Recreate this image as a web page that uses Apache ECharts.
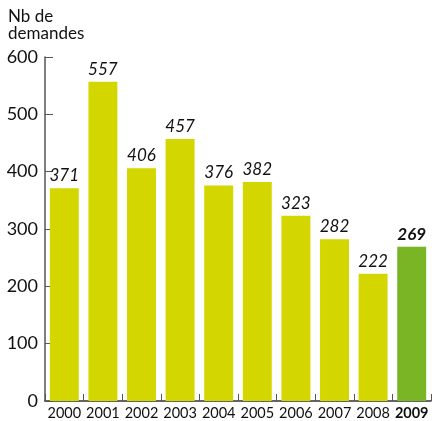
<!DOCTYPE html>
<html>
<head>
<meta charset="utf-8">
<script src="https://cdn.jsdelivr.net/npm/echarts@6/dist/echarts.min.js"></script>
<style>
  html, body { margin: 0; padding: 0; background: #fff; }
  #chart { width: 432px; height: 421px; }
</style>
</head>
<body>
<div id="chart"></div>
<script>
// données
const years = ['2000', '2001', '2002', '2003', '2004', '2005', '2006', '2007', '2008', '2009'];
const demandes = [371, 557, 406, 457, 376, 382, 323, 282, 222, 269];
const yTicks = [0, 100, 200, 300, 400, 500, 600];

const FONT = 'Lato';
const lastIdx = years.length - 1;

const chart = echarts.init(document.getElementById('chart'));

chart.setOption({
  animation: false,
  title: {
    text: 'Nb de\ndemandes',
    left: 3,
    top: 3,
    textStyle: { fontFamily: FONT, fontSize: 17, fontWeight: 'normal', color: '#111', lineHeight: 17 }
  },
  grid: { left: 45, right: 1, top: 57, bottom: 19 },
  xAxis: {
    type: 'category',
    data: years,
    axisLine: { lineStyle: { color: '#333', width: 1.5 } },
    axisTick: { show: true, inside: true, length: 7, interval: 0, lineStyle: { color: '#555' } },
    axisLabel: {
      interval: 0,
      fontFamily: FONT, fontSize: 14.5, color: '#111', margin: 5,
      formatter: (v, i) => i === lastIdx ? '{b|' + v + '}' : v,
      rich: { b: { fontFamily: FONT, fontSize: 14.5, fontWeight: 'bold', color: '#111' } }
    }
  },
  yAxis: {
    type: 'value',
    min: yTicks[0],
    max: yTicks[yTicks.length - 1],
    interval: 100,
    splitLine: { show: false },
    axisLine: { show: true, lineStyle: { color: '#555', width: 1.5 } },
    axisTick: { show: true, inside: true, length: 8, lineStyle: { color: '#555' } },
    axisLabel: { fontFamily: FONT, fontSize: 18, color: '#111', margin: 7 }
  },
  series: [{
    type: 'bar',
    barCategoryGap: '25%',
    data: demandes.map((v, i) => ({
      value: v,
      itemStyle: { color: i === lastIdx ? '#7ab526' : '#d4d600' },
      label: i === lastIdx ? { fontWeight: 'bold' } : {}
    })),
    label: {
      show: true,
      position: 'top',
      distance: 4,
      fontFamily: FONT,
      fontSize: 17,
      fontStyle: 'italic',
      color: '#111'
    }
  }]
});
</script>
</body>
</html>
